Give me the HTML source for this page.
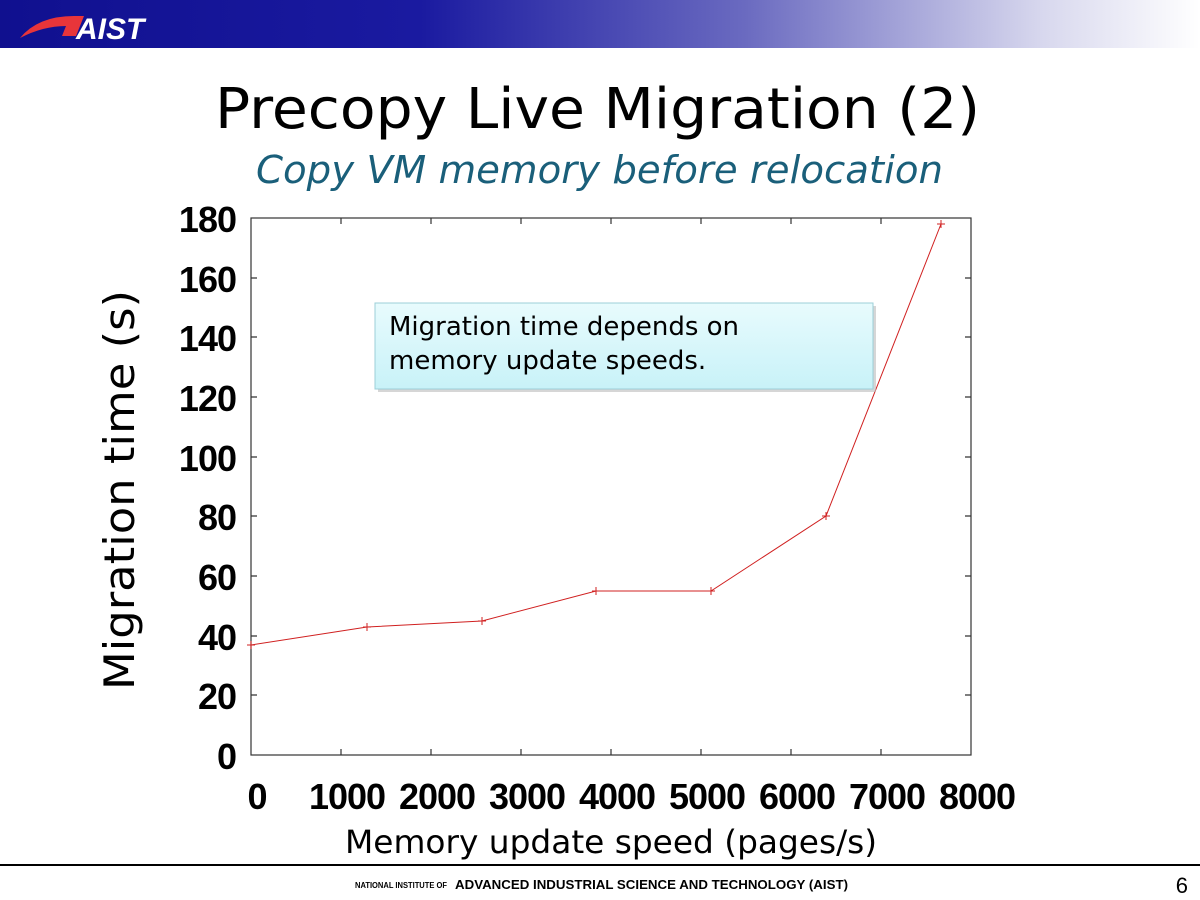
<!DOCTYPE html>
<html><head><meta charset="utf-8"><style>
body{margin:0;width:1200px;height:900px;background:#fff;position:relative;overflow:hidden;font-family:"Liberation Sans",sans-serif}
.hdr{position:absolute;left:0;top:0;width:1200px;height:48px;background:linear-gradient(90deg,#10108f 0%,#1a1aa0 35%,#6a6ac0 62%,#d8d8ee 87%,#fff 100%)}
.t{position:absolute;white-space:nowrap}
</style></head><body>
<div class="hdr"></div>
<svg class="t" style="left:18px;top:8px" width="140" height="36">
<path d="M2 30 Q20 8 56 8 L66 8 L58 28 L44 28 L48 18 Q25 18 2 30Z" fill="#e8353a"/>
<text x="58" y="31" font-family="Liberation Sans" font-weight="bold" font-style="italic" font-size="30" fill="#fff">AIST</text>
</svg>
<svg class="t" style="left:0;top:0" width="1200" height="900">
<text x="215" y="128" textLength="765" lengthAdjust="spacingAndGlyphs" font-family="DejaVu Sans" font-size="56" fill="#000">Precopy Live Migration (2)</text>
<text x="256" y="183" textLength="687" lengthAdjust="spacingAndGlyphs" font-family="DejaVu Sans" font-style="oblique" font-size="38" fill="#1a5f7a">Copy VM memory before relocation</text>
<g stroke="#333" stroke-width="1.2" fill="none">
<rect x="251" y="218" width="720" height="537"/>
<path d="M341 755v-6M431 755v-6M521 755v-6M611 755v-6M701 755v-6M791 755v-6M881 755v-6"/>
<path d="M341 218v6M431 218v6M521 218v6M611 218v6M701 218v6M791 218v6M881 218v6"/>
<path d="M251 695h6M251 636h6M251 576h6M251 516h6M251 457h6M251 397h6M251 337h6M251 278h6"/>
<path d="M971 695h-6M971 636h-6M971 576h-6M971 516h-6M971 457h-6M971 397h-6M971 337h-6M971 278h-6"/>
</g>
<polyline fill="none" stroke="#d02020" stroke-width="1" points="251,645 367,627 482,621 596,591 711,591 826,516 941,224"/>
<g stroke="#d02020" stroke-width="1">
<path d="M247 645h8M251 641v8M363 627h8M367 623v8M478 621h8M482 617v8M592 591h8M596 587v8M707 591h8M711 587v8M822 516h8M826 512v8M937 224h8M941 220v8"/>
</g>
<g font-family="Liberation Sans" font-weight="bold" font-size="36" fill="#000" text-anchor="end" letter-spacing="-1">
<text x="236" y="232">180</text><text x="236" y="292">160</text><text x="236" y="351">140</text><text x="236" y="411">120</text><text x="236" y="471">100</text><text x="236" y="530">80</text><text x="236" y="590">60</text><text x="236" y="650">40</text><text x="236" y="709">20</text><text x="236" y="769">0</text>
</g>
<g font-family="Liberation Sans" font-weight="bold" font-size="36" fill="#000" text-anchor="middle" letter-spacing="-1">
<text x="257" y="809">0</text><text x="347" y="809">1000</text><text x="437" y="809">2000</text><text x="527" y="809">3000</text><text x="617" y="809">4000</text><text x="707" y="809">5000</text><text x="797" y="809">6000</text><text x="887" y="809">7000</text><text x="977" y="809">8000</text>
</g>
<text x="345" y="853" textLength="532" lengthAdjust="spacingAndGlyphs" font-family="DejaVu Sans" font-size="32" fill="#000">Memory update speed (pages/s)</text>
<text transform="translate(134,490) rotate(-90)" text-anchor="middle" textLength="400" lengthAdjust="spacingAndGlyphs" font-family="DejaVu Sans" font-size="42" fill="#000">Migration time (s)</text>
<defs><linearGradient id="g" x1="0" y1="0" x2="0" y2="1"><stop offset="0" stop-color="#e8fbfd"/><stop offset="1" stop-color="#c8f2f8"/></linearGradient></defs>
<rect x="378" y="306" width="498" height="86" fill="#bbb" opacity="0.6"/>
<rect x="375" y="303" width="498" height="86" fill="url(#g)" stroke="#9ccfd8"/>
<text x="389" y="335" font-family="DejaVu Sans" font-size="26" fill="#000">Migration time depends on</text>
<text x="389" y="369" font-family="DejaVu Sans" font-size="26" fill="#000">memory update speeds.</text>
<rect x="0" y="864" width="1200" height="2" fill="#000"/>
<text x="355" y="888" textLength="92" lengthAdjust="spacingAndGlyphs" font-family="Liberation Sans" font-size="8" font-weight="bold" fill="#000">NATIONAL INSTITUTE OF</text>
<text x="455" y="889" textLength="393" lengthAdjust="spacingAndGlyphs" font-family="Liberation Sans" font-size="13" font-weight="bold" fill="#000">ADVANCED INDUSTRIAL SCIENCE AND TECHNOLOGY (AIST)</text>
<text x="1188" y="893" text-anchor="end" font-family="Liberation Sans" font-size="22" fill="#000">6</text>
</svg>
</body></html>
